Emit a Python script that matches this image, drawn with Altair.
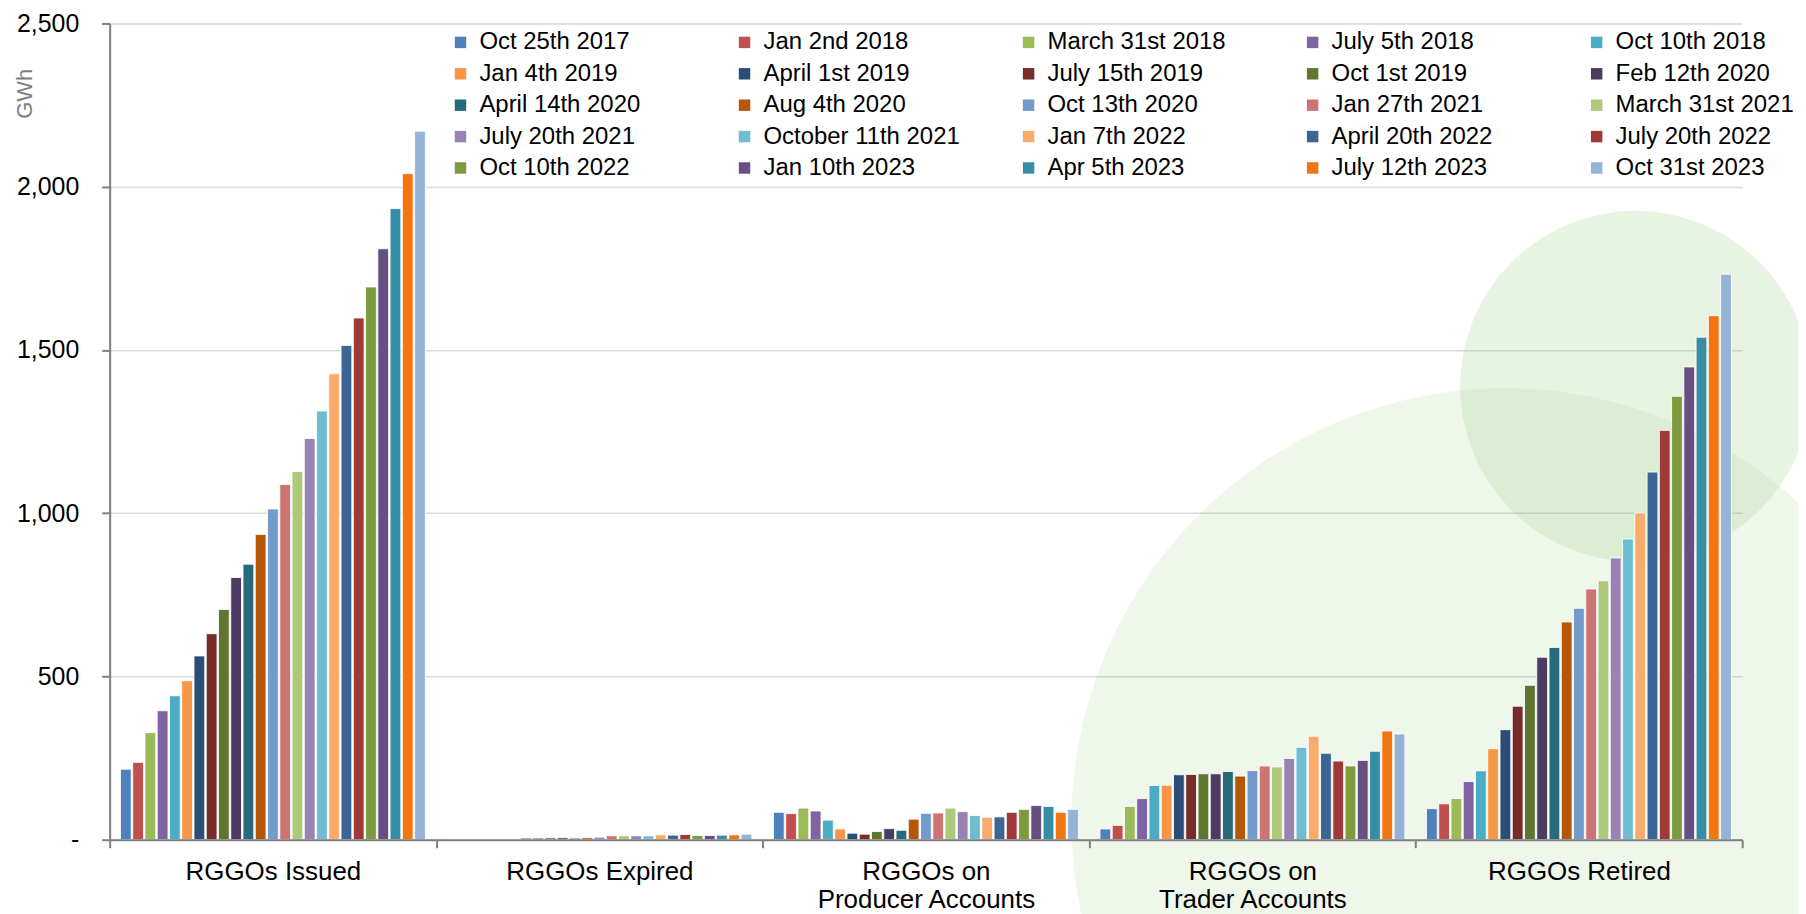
import altair as alt
import pandas as pd

categories = ["RGGOs Issued", "RGGOs Expired", "RGGOs on|Producer Accounts",
              "RGGOs on|Trader Accounts", "RGGOs Retired"]

series = ["Oct 25th 2017", "Jan 2nd 2018", "March 31st 2018", "July 5th 2018", "Oct 10th 2018",
          "Jan 4th 2019", "April 1st 2019", "July 15th 2019", "Oct 1st 2019", "Feb 12th 2020",
          "April 14th 2020", "Aug 4th 2020", "\u00a0Oct 13th 2020", "\u00a0Jan 27th 2021", "March 31st 2021",
          "July 20th 2021", "October 11th 2021", "Jan 7th 2022", "April 20th 2022", "July 20th 2022",
          "Oct 10th 2022", "Jan 10th 2023", "Apr 5th 2023", "July 12th 2023", "Oct 31st 2023"]

colors = ["#4F81BD", "#C0504D", "#9BBB59", "#8064A2", "#4BACC6",
          "#F79646", "#2C4D75", "#772C2A", "#5F7530", "#4D3B62",
          "#276A7C", "#B65708", "#729ACA", "#CD7371", "#AFC97A",
          "#9983B5", "#6FBDD1", "#F9AB6B", "#3A6595", "#9E3B39",
          "#7D9A3F", "#664F83", "#358DA6", "#F27510", "#95B3D7"]

issued = [216, 237, 328, 395, 441, 487, 563, 631, 705, 803, 844, 935, 1013, 1088, 1128,
          1229, 1313, 1427, 1514, 1598, 1693, 1810, 1933, 2040, 2170]
expired = [0, 0, 0, 0, 2, 2, 5, 5, 6, 6, 5, 6, 8, 12, 12, 12, 12, 15, 14, 16, 13, 13, 14, 15, 17]
producer = [84, 80, 97, 88, 60, 33, 20, 17, 25, 34, 29, 63, 81, 82, 97, 86, 74, 69, 70, 84,
            93, 105, 102, 84, 93]
trader = [33, 44, 102, 126, 166, 167, 199, 200, 202, 202, 209, 195, 212, 226, 223, 249, 283,
          317, 265, 241, 226, 243, 271, 333, 324]
retired = [95, 110, 126, 178, 211, 279, 337, 409, 473, 559, 589, 667, 709, 768, 793, 863, 921,
           1001, 1126, 1254, 1358, 1448, 1539, 1605, 1732]

rows = []
for cat, vals in zip(categories, [issued, expired, producer, trader, retired]):
    for s, v in zip(series, vals):
        rows.append({"category": cat, "series": s, "value": v})
df = pd.DataFrame(rows)

FONT = "Liberation Sans"

bars = alt.Chart(df).mark_bar(stroke="white", strokeWidth=1, strokeOpacity=0.85).encode(
    x=alt.X("category:N", sort=categories,
            scale=alt.Scale(paddingInner=0, paddingOuter=0),
            axis=alt.Axis(title=None, labelExpr="split(datum.label, '|')", labelAngle=0,
                          labelFont=FONT, labelFontSize=26, labelColor="black", labelLimit=500,
                          labelPadding=11, labelLineHeight=28, tickBand="extent",
                          tickSize=8, tickWidth=2, tickColor="#7f7f7f",
                          domainColor="#7f7f7f", domainWidth=2, zindex=1)),
    xOffset=alt.XOffset("series:N", sort=series,
                        scale=alt.Scale(paddingInner=0.12, paddingOuter=0.88)),
    y=alt.Y("value:Q", scale=alt.Scale(domain=[0, 2500], nice=False),
            axis=alt.Axis(values=[0, 500, 1000, 1500, 2000, 2500],
                          labelExpr="datum.value == 0 ? '-\u00a0\u00a0' : format(datum.value, ',')",
                          labelFont=FONT, labelFontSize=25, labelColor="black", labelPadding=23,
                          tickSize=8, tickWidth=2, tickColor="#7f7f7f",
                          domainColor="#7f7f7f", domainWidth=2,
                          gridColor="#d9d9d9", gridWidth=1.5,
                          title="GWh", titleFont=FONT, titleFontSize=22, titleFontWeight="normal",
                          titleColor="#7f7f7f", titleAngle=270, titleAlign="center",
                          titleBaseline="middle", titleX=-85, titleY=70)),
    color=alt.Color("series:N", sort=series,
                    scale=alt.Scale(domain=series, range=colors),
                    legend=alt.Legend(orient="none", direction="horizontal",
                                      legendX=340, legendY=7, columns=5,
                                      columnPadding=56, rowPadding=7.5, gridAlign="all",
                                      symbolType="square", symbolSize=132, symbolStrokeWidth=0,
                                      labelFont=FONT, labelFontSize=24, labelColor="black",
                                      labelOffset=7, labelLimit=400, title=None))
)

deco_data = pd.DataFrame({"d": [0]})
big = alt.Chart(deco_data).mark_circle(color="#8CC66E", opacity=0.14).encode(
    x=alt.value(1400), y=alt.value(801), size=alt.value(870 * 870))
small = alt.Chart(deco_data).mark_circle(color="#8CC66E", opacity=0.2).encode(
    x=alt.value(1531), y=alt.value(364), size=alt.value(352 * 352))

chart = alt.layer(big, small, bars).properties(
    width=1638, height=819,
    autosize=alt.AutoSizeParams(type="none"),
    padding={"left": 102, "top": 14, "right": 56, "bottom": 73},
).configure_view(strokeWidth=0)

chart.save("out.html", embed_options={"renderer": "svg", "actions": False})
